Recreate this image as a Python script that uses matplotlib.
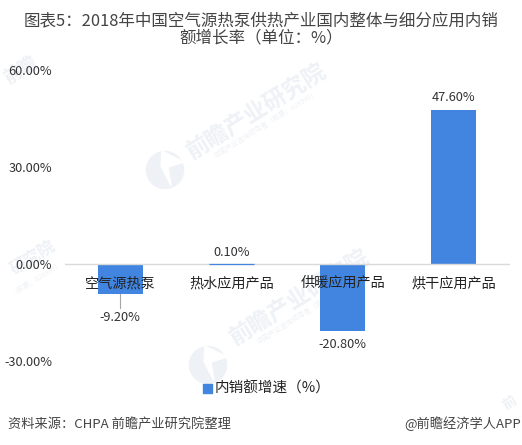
import matplotlib
matplotlib.use("Agg")
import matplotlib.pyplot as plt
from matplotlib.patches import Rectangle, Ellipse, Polygon

plt.rcParams['font.family'] = ['Noto Sans CJK SC', 'DejaVu Sans']

categories = ['空气源热泵', '热水应用产品', '供暖应用产品', '烘干应用产品']
values = [-9.2, 0.1, -20.8, 47.6]
value_labels = ['-9.20%', '0.10%', '-20.80%', '47.60%']
yticks = [-30, 0, 30, 60]
ytick_labels = ['-30.00%', '0.00%', '30.00%', '60.00%']

title = '图表5：2018年中国空气源热泵供热产业国内整体与细分应用内销\n额增长率（单位：%）'
legend_label = '内销额增速（%）'
source = '资料来源：CHPA 前瞻产业研究院整理'
credit = '@前瞻经济学人APP'
watermark = '前瞻产业研究院'
watermark_sub = '中国产业咨询领导者（股票：839599）'

W, H = 522, 445
blue = '#4285e0'
text_col = '#333333'
wm_col = '#eef1f5'

fig = plt.figure(figsize=(W / 100, H / 100), dpi=100)
# axes placed in pixels from the reference
ax = fig.add_axes([64.5 / W, 1 - 361 / H, (509.5 - 64.5) / W, (361 - 70) / H])
ax.set_xlim(-0.5, 3.5)
ax.set_ylim(-30, 60)
ax.patch.set_alpha(0)
ax.set_zorder(5)

def fx(x):
    return x / W

def fy(y):
    return 1 - y / H

# watermarks behind the chart
for x, y in [(257, 112), (300, 298)]:
    fig.text(fx(x), fy(y), watermark, fontsize=16.5, color=wm_col, rotation=32,
             ha='center', va='center', fontweight='bold', zorder=0)
    fig.text(fx(x + 9), fy(y + 12), watermark_sub, fontsize=5, color=wm_col, rotation=32,
             ha='center', va='center', zorder=0)
for x, y in [(165, 170), (208, 365)]:
    fig.add_artist(Ellipse((fx(x), fy(y)), 37 / W, 37 / H, color=wm_col, zorder=0,
                           transform=fig.transFigure))
    fig.add_artist(Polygon([(fx(x - 3), fy(y - 19)), (fx(x + 19), fy(y - 8)), (fx(x + 3), fy(y - 3)),
                            (fx(x + 6), fy(y + 16)), (fx(x - 4), fy(y - 4))],
                           color='white', zorder=0, transform=fig.transFigure))
fig.text(fx(33), fy(258), '研究院', fontsize=12, color=wm_col, rotation=32,
         ha='center', va='center', fontweight='bold', zorder=0)
fig.text(fx(36), fy(277), '（股票：839599）', fontsize=5, color=wm_col, rotation=32,
         ha='center', va='center', zorder=0)
fig.text(fx(20), fy(70), '前瞻', fontsize=13, color=wm_col, rotation=32,
         ha='center', va='center', fontweight='bold', zorder=0)
fig.text(fx(510), fy(403), '前', fontsize=10, color=wm_col, rotation=32,
         ha='center', va='center', fontweight='bold', zorder=0)

bars = ax.bar(range(4), values, width=0.405, color=blue, linewidth=0, zorder=2)
# the 0.10% bar is thinner than a pixel, it shows as a blue line on the axis
bars[1].set(edgecolor=blue, linewidth=0.9, zorder=4)

ax.spines[['top', 'right', 'left', 'bottom']].set_visible(False)
ax.axhline(0, color='#d9d9d9', lw=1, zorder=3)
ax.set_xticks([])
ax.set_yticks(yticks)
ax.set_yticklabels(ytick_labels, fontsize=9.2, color=text_col)
ax.tick_params(axis='y', length=0, pad=9)

# category labels sit just below the zero line, on top of the bars
for i, c in enumerate(categories):
    ax.text(i, -5.9, c, ha='center', va='center', fontsize=10.2, color='#222222', zorder=5)

# value labels
label_y = [-16.5, 3.6, -24.9, 51.5]
for i, lab in enumerate(value_labels):
    ax.text(i, label_y[i], lab, ha='center', va='center', fontsize=9.2, color=text_col, zorder=5)

# leader line for first bar
ax.plot([0, 0], [-9.2, -13.6], color='#a6a6a6', lw=0.8, zorder=1)

fig.text(fx(261), fy(29.5), title, ha='center', va='center', fontsize=11.9,
         color='#444444', linespacing=1.0)

# legend
fig.add_artist(Rectangle((fx(203), fy(393)), 9 / W, 9 / H, color=blue, transform=fig.transFigure))
fig.text(fx(215), fy(388.5), legend_label, ha='left', va='center', fontsize=10.5, color='#222222')

fig.text(fx(8), fy(424), source, ha='left', va='center', fontsize=9.5, style='italic', color='#444444')
fig.text(fx(521), fy(424), credit, ha='right', va='center', fontsize=9.5, color='#444444')

fig.savefig('out.png', dpi=100)
